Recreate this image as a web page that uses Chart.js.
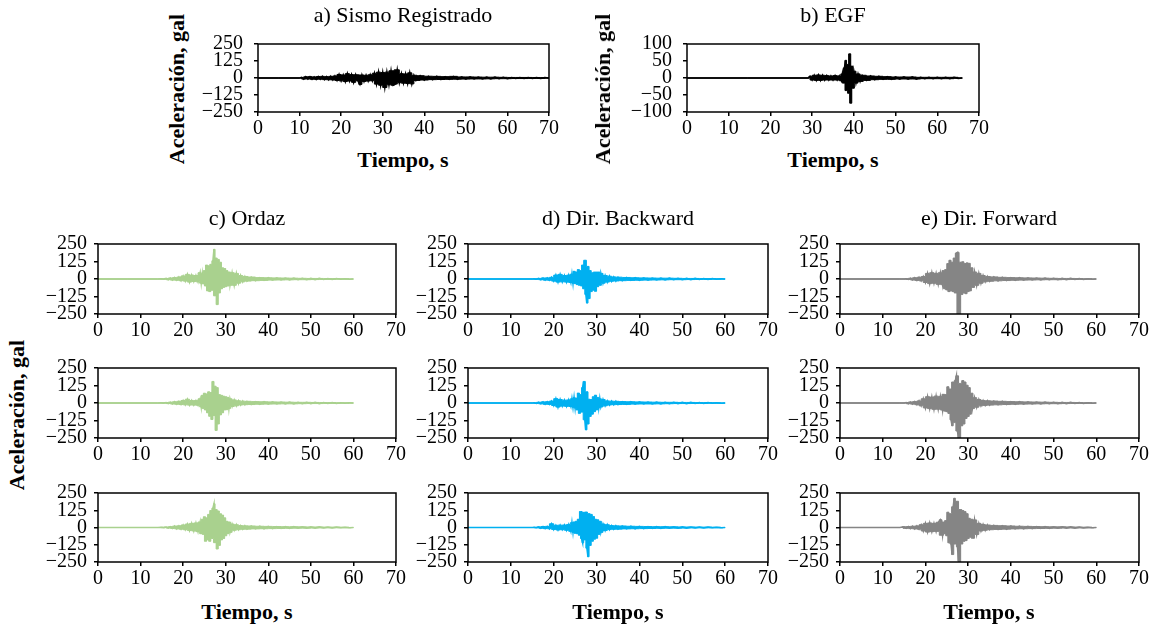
<!DOCTYPE html>
<html lang="es">
<head>
<meta charset="utf-8">
<title>Acelerogramas</title>
<script src="https://cdn.jsdelivr.net/npm/chart.js@4.4.1/dist/chart.umd.min.js"></script>
<style>
  body { margin: 0; background: #fff; }
  #fig { position: relative; width: 1156px; height: 628px; overflow: hidden;
         font-family: "Liberation Serif", "Times New Roman", serif; color: #000; }
  #fig canvas { position: absolute; }
  .lbl { position: absolute; transform: translate(-50%, -50%); white-space: nowrap;
         font-size: 22px; line-height: 1; }
  .bold { font-weight: bold; }
  .rot { transform: translate(-50%, -50%) rotate(-90deg); }
</style>
</head>
<body>
<div id="fig"></div>
<script>
// eje de tiempo común (s)
const tiempoTicks = [0, 10, 20, 30, 40, 50, 60, 70];
const acelTicks = [250, 125, 0, -125, -250];
const egfTicks = [100, 50, 0, -50, -100];

// a) sismo registrado
const tiempoA = [0, 10, 10.5, 11, 11.5, 12, 12.5, 13, 13.5, 14, 14.5, 15, 15.5, 16, 16.5, 17, 17.5,
  18, 18.5, 19, 19.5, 20, 20.5, 21, 21.5, 22, 22.5, 23, 23.5, 24, 24.5, 25, 25.5, 26, 26.5, 27, 27.5,
  28, 28.5, 29, 29.5, 30, 30.5, 31, 31.5, 32, 32.5, 33, 33.5, 34, 34.5, 35, 35.5, 36, 36.5, 37, 37.5,
  38, 39, 40, 41, 42, 43, 44, 45, 46, 47, 48, 49, 50, 51, 52, 53, 54, 55, 56, 57, 58, 59, 60,
  61, 62, 63, 64, 65, 66, 67, 68, 69, 70];
const aceleracionA = [0, 0, 4, -8, 9, -7, 10, -9, 8, -10, 11, -9, 12, -12, 10, -13, 12,
  -14, 15, -18, 26, -21, 22, -26, 32, -22, 25, -32, 24, -20, -47, 22, -25, 20, -22, 24, -20,
  35, -45, 43, -53, 40, -70, 43, -50, 53, -53, -45, 60, -35, 32, -38, 30, -40, 38, -43, 20,
  -18, 17, -15, 13, -12, 12, -11, 10, -10, 12, -9, 8, -8, 8, -7, 7, -7, 6, -6, 6, -5, 5, -5,
  4, -4, 4, -4, 4, -3, 3, -3, 3, 0];

// b) EGF
const tiempoB = [0, 29, 29.5, 30, 30.5, 31, 31.5, 32, 32.5, 33, 33.5, 34, 34.5, 35, 35.5, 36, 36.5, 37,
  37.25, 37.5, 37.75, 38, 38.25, 38.5, 38.75, 39, 39.25, 39.5, 39.75, 40,
  40.5, 41, 41.5, 42,
  43, 44, 45, 46, 47, 48, 49, 50, 51, 52, 53, 54, 55, 56, 57, 58, 59, 60, 61, 62, 63, 64, 65, 66];
const aceleracionB = [0, 0, 5, -6, 8, -7, 9, -7, 8, -6, 7, -6, 6, -6, 7, -6, 6, -8,
  12, -15, 30, 52, -37, 40, -45, 71, -74, 35, -30, 20,
  -15, 12, -10, 8,
  -7, 6, -5, 5, -4, 4, -4, 3, -3, 3, -3, 3, -3, 2, -2, 2, -2, 2, -2, 2, -2, 2, -1, 0];

// c), d), e) simulaciones, mismo muestreo
const tiempoSim = [0, 14, 15, 15.5, 16, 16.5, 17, 17.5, 18, 18.5, 19, 19.5, 20, 20.5, 21, 21.5, 22, 22.5, 23, 23.5,
  24, 24.25, 24.5, 24.75, 25, 25.25, 25.5, 25.75, 26, 26.25, 26.5, 26.75, 27, 27.25, 27.5, 27.75,
  28, 28.25, 28.5, 28.75, 29, 29.25, 29.5, 29.75, 30, 30.25, 30.5, 30.75,
  31, 31.5, 32, 32.5, 33, 33.5, 34, 34.5, 35,
  36, 37, 38, 39, 40, 41, 42, 43, 44, 45, 46, 47, 48, 49, 50, 51, 52, 53, 54, 55, 56, 57, 58, 59, 60];

const ordaz1 = [0, 0, 1, -2, 4, -5, 7, -8, 10, -9, 14, -12, 22, -15, 33, -22, 28, -18, 25, -20,
  45, -30, 38, -35, 60, -50, 100, -85, 95, -90, 105, -80, 130, 212, -120, 150,
  -183, 140, -100, 120, -70, 80, -60, 75, -55, 60, -50, 50,
  -45, 45, -45, 40, -30, 25, -20, 18, -15,
  14, -12, 10, -10, 9, -8, 8, -7, 7, -6, 6, -5, 5, -5, 4, -4, 4, -3, 3, -3, 3, -2, 2, -2, 0];
const ordaz2 = [0, 0, 1, -1, 3, -4, 6, -7, 9, -9, 12, -11, 18, -13, 27, -15, 18, -15, 17, -16,
  30, -28, 55, -40, 70, -50, 65, -70, 80, -95, 75, -118, 154, -90, 120, -196,
  110, -150, 60, -85, 55, -70, 49, -50, 45, -48, 40, -40,
  30, -25, 22, -20, 16, -14, 13, -12, 12,
  -11, 10, -9, 9, -8, 8, -7, 7, -6, 6, -6, 5, -5, 5, -4, 4, -4, 3, -3, 3, -3, 2, -2, 2, 0];
const ordaz3 = [0, 0, 1, -1, 3, -4, 6, -7, 10, -10, 12, -12, 18, -16, 25, -22, 30, -25, 33, -30,
  40, -45, 60, -50, 78, -100, 70, -90, 95, -100, 123, -80, 140, 172, -110, 130,
  -156, 120, -130, 100, -90, 90, -80, 70, -60, 45, -45, 40,
  -35, 25, -20, 20, -16, 14, -13, 12, -12,
  11, -10, 9, -9, 8, -8, 7, -7, 6, -6, 6, -5, 5, -5, 4, -4, 4, -3, 3, -3, 3, -2, 2, -2, 0];

const backward1 = [0, 0, 0, 1, -2, 4, -5, 7, -8, 8, -9, 12, -15, 28, -22, 33, -20, 25, -22, 28,
  -25, 35, -30, 55, -33, 50, -40, 67, -45, 60, -50, 100, -70, 134, -110, -172,
  90, -140, 60, -90, 45, -80, 50, -88, 50, -55, 50, -45,
  40, -30, 25, -22, 20, -16, 15, -14, 13,
  -12, 11, -10, 9, -9, 8, -8, 7, -7, 6, -6, 6, -5, 5, -5, 4, -4, 4, -3, 3, -3, 3, -2, 2, 0];
const backward2 = [0, 0, 0, 1, -3, 5, -6, 8, -9, 9, -10, 14, -18, 31, -29, 25, -22, 20, -24, 22,
  -25, 30, -30, 38, -36, 35, -50, 71, -74, 60, -65, 110, 154, -120, -192, 80,
  -150, 27, -96, 25, -80, 45, -62, 56, -50, 40, -35, 30,
  -28, 25, -20, 15, -14, 13, -12, 12, -11,
  10, -10, 9, -8, 8, -7, 7, -7, 6, -6, 5, -5, 5, -4, 4, -4, 4, -3, 3, -3, 3, -2, 2, -2, 0];
const backward3 = [0, 0, 0, 1, -2, 4, -5, 7, -8, 8, -9, 27, -14, 16, -18, 17, -16, 18, -20, 22,
  -28, 35, -35, 40, -42, 45, -45, 60, -56, 116, -80, -111, 110, -90, 112, -150,
  -212, 100, -130, 95, -100, 80, -85, 60, -78, 56, -50, 45,
  -35, 25, -22, 20, -15, 14, -13, 12, -12,
  11, -10, 9, -9, 8, -8, 7, -7, 6, -6, 6, -5, 5, -5, 4, -4, 4, -3, 3, -3, 3, -2, 2, -2, 0];

const forward1 = [0, 0, 0, 2, -3, 5, -7, 9, -10, 12, -13, 18, -25, 40, -33, 45, -30, 40, -38, 45,
  -40, 60, -70, 67, -78, 110, -90, 134, -85, 120, -90, 150, -100, 185, 190, -250,
  -250, 120, -111, 123, -100, 110, -105, 115, -90, 112, -85, 80,
  -60, 50, -45, 40, -30, 25, -20, 18, -16,
  15, -13, 12, -11, 10, -9, 9, -8, 8, -7, 7, -6, 6, -5, 5, -5, 4, -4, 4, -3, 3, -3, 2, -2, 0];
const forward2 = [0, 0, 0, 3, -5, 7, -8, 10, -12, 15, -20, 30, -35, 45, -40, 42, -45, 49, -44, 47,
  -50, 62, -58, 60, -62, 116, -74, 100, -120, -163, 150, -140, 160, 194, -200, -250,
  -250, 140, -163, 160, -150, 150, -110, 127, -96, 110, -80, 70,
  -40, 38, -30, 25, -20, 18, -17, 16, -15,
  14, -13, 12, -11, 10, -9, 9, -8, 8, -7, 7, -6, 6, -5, 5, -5, 4, -4, 4, -3, 3, -3, 2, -2, 0];
const forward3 = [0, 0, 5, -6, 7, -8, 9, -10, 11, -12, 20, -25, 30, -33, 33, -30, 30, -28, 38, 56,
  -56, 40, -45, 50, -60, 111, -111, 100, -120, -196, 150, 212, -120, 190, -140, -245,
  -250, 130, -120, 123, -100, 115, -95, 100, -80, 67, -70, 60,
  -78, 55, -50, 30, -25, 22, -20, 18, -16,
  15, -14, 13, -12, 11, -10, 9, -9, 8, -8, 7, -7, 6, -6, 5, -5, 5, -4, 4, -4, 3, -3, 2, -2, 0];

const verde = '#a9d18e', azul = '#00b0f0', gris = '#858585';
const serif = '"Liberation Serif", "Times New Roman", serif';
const fig = document.getElementById('fig');

// caja completa alrededor del área de datos
const frame = {
  id: 'frame',
  afterDraw(chart) {
    const a = chart.chartArea, ctx = chart.ctx;
    ctx.save();
    ctx.strokeStyle = '#000';
    ctx.lineWidth = 1.5;
    ctx.strokeRect(a.left, a.top, a.right - a.left, a.bottom - a.top);
    ctx.restore();
  }
};

function fmt(v) {
  return v < 0 ? '\u2212' + Math.abs(v) : String(v);
}

// box = [left, top, width, height] del área de datos
function panel(box, t, v, color, yTicks, pad) {
  const [L, T, W, H] = box;
  const cv = document.createElement('canvas');
  cv.width = W + 80;
  cv.height = H + 44;
  cv.style.left = (L - 60) + 'px';
  cv.style.top = (T - 14) + 'px';
  fig.appendChild(cv);

  // picos positivos y negativos por separado; se rellena entre ambos
  const pts = t.map((x, i) => ({ x: x, y: v[i] }));
  const picosSup = pts.filter(p => p.y >= 0);
  const picosInf = pts.filter(p => p.y <= 0);

  const grid = { display: true, drawOnChartArea: false, drawTicks: true, tickLength: 4, color: '#000', lineWidth: 1.5 };
  const font = { family: serif, size: 20 };
  const linea = { borderColor: color, backgroundColor: color, borderWidth: 1, pointRadius: 0, stepped: 'middle' };

  new Chart(cv, {
    type: 'line',
    data: {
      datasets: [
        Object.assign({ data: picosSup, fill: '+1' }, linea),
        Object.assign({ data: picosInf, fill: false }, linea),
        // la señal completa encima
        { data: pts, borderColor: color, borderWidth: 1.6, pointRadius: 0, tension: 0, fill: false }
      ]
    },
    options: {
      responsive: false,
      animation: false,
      events: [],
      layout: { padding: { left: 0, top: 14, right: 20, bottom: 0 } },
      plugins: { legend: { display: false }, tooltip: { enabled: false } },
      scales: {
        x: {
          type: 'linear', min: 0, max: 70,
          afterBuildTicks: s => { s.ticks = tiempoTicks.map(x => ({ value: x })); },
          afterFit: s => { s.height = 30; },
          border: { display: false },
          grid: grid,
          ticks: { font: font, color: '#000', padding: 1, maxRotation: 0, autoSkip: false }
        },
        y: {
          type: 'linear', min: yTicks[yTicks.length - 1], max: yTicks[0],
          afterBuildTicks: s => { s.ticks = yTicks.map(y => ({ value: y })); },
          afterFit: s => { s.width = 60; },
          border: { display: false },
          grid: grid,
          ticks: { font: font, color: '#000', padding: pad, autoSkip: false, callback: fmt }
        }
      }
    },
    plugins: [frame]
  });
}

panel([258, 35, 291, 77], tiempoA, aceleracionA, '#000', acelTicks, 11);
panel([687, 35, 292, 77], tiempoB, aceleracionB, '#000', egfTicks, 11);

const cols = [[98, 298], [468, 300], [840, 299]];
const rows = [[239, 75], [363, 75], [488, 74]];
const sims = [
  [ordaz1, backward1, forward1],
  [ordaz2, backward2, forward2],
  [ordaz3, backward3, forward3]
];
const colores = [verde, azul, gris];
rows.forEach((r, i) => {
  cols.forEach((c, j) => {
    panel([c[0], r[0], c[1], r[1]], tiempoSim, sims[i][j], colores[j], acelTicks, 7);
  });
});

// títulos y rótulos de ejes
const textos = [
  ['a) Sismo Registrado', 403, 15, ''],
  ['b) EGF', 833, 15, ''],
  ['c) Ordaz', 247, 218, ''],
  ['d) Dir. Backward', 618, 218, ''],
  ['e) Dir. Forward', 989, 218, ''],
  ['Tiempo, s', 403, 160, 'bold'],
  ['Tiempo, s', 833, 160, 'bold'],
  ['Tiempo, s', 247, 612, 'bold'],
  ['Tiempo, s', 618, 612, 'bold'],
  ['Tiempo, s', 989, 612, 'bold'],
  ['Aceleración, gal', 177, 89, 'bold rot'],
  ['Aceleración, gal', 603, 89, 'bold rot'],
  ['Aceleración, gal', 17, 415, 'bold rot']
];
textos.forEach(([txt, x, y, cls]) => {
  const d = document.createElement('div');
  d.className = 'lbl ' + cls;
  d.textContent = txt;
  d.style.left = x + 'px';
  d.style.top = y + 'px';
  fig.appendChild(d);
});
</script>
</body>
</html>
